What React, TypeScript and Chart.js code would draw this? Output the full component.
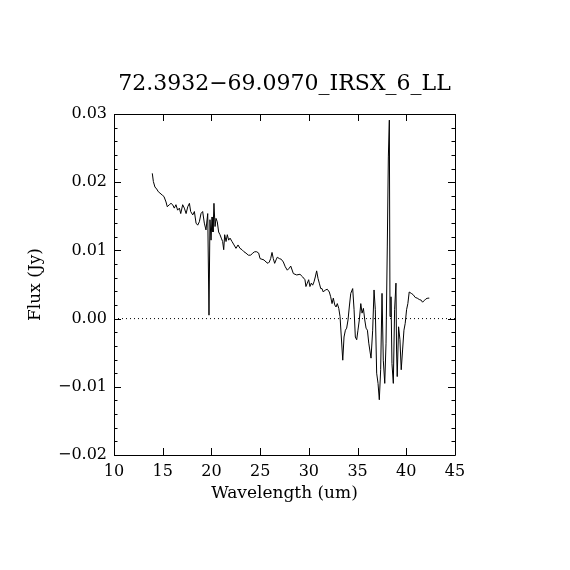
import React, { useEffect, useRef } from "react";
import { Chart, registerables } from "chart.js";

Chart.register(...registerables);

const chartTitle = "72.3932\u221269.0970_IRSX_6_LL";
const xLabel = "Wavelength (um)";
const yLabel = "Flux (Jy)";

const wavelength = [
  13.93, 14.04, 14.2, 14.38, 14.55, 14.72, 14.96, 15.13, 15.34, 15.47, 15.68, 15.85, 16.02, 16.19, 16.36, 16.53,
  16.71, 16.85, 17.05, 17.22, 17.4, 17.57, 17.74, 17.87, 18.08, 18.25, 18.42, 18.59, 18.76, 18.93, 19.1, 19.27,
  19.44, 19.62, 19.75, 19.85, 19.96, 20.06, 20.16, 20.26, 20.37, 20.47, 20.6, 20.74, 20.88, 21.01, 21.15, 21.26,
  21.36, 21.5, 21.63, 21.77, 21.91, 22.11, 22.32, 22.52, 22.73, 22.93, 23.14, 23.34, 23.55, 23.79, 24.03, 24.23,
  24.44, 24.65, 24.85, 24.99, 25.19, 25.4, 25.6, 25.81, 25.94, 26.08, 26.22, 26.35, 26.49, 26.63, 26.76, 26.97,
  27.17, 27.38, 27.58, 27.79, 27.99, 28.14, 28.41, 28.75, 29.09, 29.37, 29.6, 29.7, 29.84, 29.98, 30.11, 30.25,
  30.39, 30.53, 30.66, 30.8, 30.94, 31.07, 31.22, 31.35, 31.48, 31.69, 31.9, 32.1, 32.24, 32.38, 32.51, 32.66,
  32.79, 32.92, 33.07, 33.2, 33.33, 33.48, 33.61, 33.75, 33.88, 34.02, 34.15, 34.3, 34.5, 34.64, 34.77, 34.91,
  35.04, 35.18, 35.33, 35.46, 35.6, 35.74, 35.87, 36.01, 36.15, 36.38, 36.55, 36.69, 36.82, 36.96, 37.1, 37.23,
  37.37, 37.51, 37.64, 37.79, 37.92, 38.05, 38.16, 38.26, 38.33, 38.43, 38.53, 38.67, 38.8, 38.94, 39.0, 39.07,
  39.21, 39.35, 39.48, 39.62, 39.76, 39.89, 40.03, 40.16, 40.3, 40.51, 40.71, 40.92, 41.12, 41.33, 41.53, 41.67,
  41.81, 42.02, 42.22, 42.36,
];

const flux = [
  0.0213, 0.0201, 0.0193, 0.019, 0.0186, 0.0184, 0.0181, 0.0179, 0.0171, 0.0164, 0.0167, 0.0169, 0.0167, 0.0162, 0.0167, 0.0159,
  0.0162, 0.0154, 0.0167, 0.0162, 0.0154, 0.0164, 0.0169, 0.0157, 0.0152, 0.0157, 0.014, 0.0137, 0.0142, 0.0154, 0.0157, 0.014,
  0.013, 0.0154, 0.0005, 0.0145, 0.0115, 0.0149, 0.0127, 0.0169, 0.0135, 0.0147, 0.0142, 0.0127, 0.0123, 0.0118, 0.0113, 0.0101,
  0.0123, 0.0113, 0.0123, 0.0115, 0.0118, 0.0113, 0.0108, 0.0103, 0.0108, 0.0103, 0.0101, 0.0098, 0.0096, 0.0093, 0.0093, 0.0096,
  0.0098, 0.0098, 0.0096, 0.0088, 0.0087, 0.0086, 0.0083, 0.0081, 0.0083, 0.0088, 0.0097, 0.0088, 0.0081, 0.0086, 0.009, 0.0088,
  0.0087, 0.0083, 0.0076, 0.0071, 0.0074, 0.0077, 0.0066, 0.0064, 0.0065, 0.0061, 0.0057, 0.0047, 0.0052, 0.0057, 0.0047, 0.0052,
  0.0049, 0.0054, 0.0061, 0.007, 0.0059, 0.0052, 0.0044, 0.0044, 0.0039, 0.0042, 0.0043, 0.0039, 0.0032, 0.0022, 0.003, 0.002,
  0.0017, 0.0022, 0.0015, 0.0003, -0.0027, -0.0061, -0.0027, -0.0017, -0.0014, -0.0002, 0.0017, 0.0037, 0.0044, 0.0013, -0.0027, -0.0031,
  -0.0017, -0.0002, 0.0022, 0.0008, 0.0015, -0.0002, -0.0014, -0.0017, -0.0036, -0.0058, -0.0017, 0.0042, 0.0013, -0.008, -0.0095, -0.0119,
  -0.0075, 0.0037, -0.0061, -0.0095, -0.0036, 0.0105, 0.0237, 0.0291, 0.0003, 0.0032, -0.0066, -0.0095, 0.0013, 0.0052, -0.0046, -0.0085,
  -0.0012, -0.0031, -0.0075, -0.0046, -0.0017, -0.0007, 0.0013, 0.0022, 0.0039, 0.0037, 0.0035, 0.0031, 0.003, 0.0028, 0.0027, 0.0024,
  0.0026, 0.0029, 0.003, 0.003,
];

const xRange = [10, 45];
const yRange = [-0.02, 0.03];
const xMajorStep = 5;
const yMajorStep = 0.01;
const yMinorStep = 0.002;

const FONT = "'DejaVu Serif', serif";

const framePlugin = {
  id: "idlFrame",
  afterDraw(chart: any) {
    const { ctx, chartArea } = chart;
    const { left, right, top, bottom } = chartArea;
    const xs = chart.scales.x;
    const ys = chart.scales.y;
    ctx.save();
    ctx.strokeStyle = "#000";
    ctx.lineWidth = 1;
    ctx.beginPath();
    ctx.rect(Math.round(left) + 0.5, Math.round(top) + 0.5, Math.round(right - left), Math.round(bottom - top));
    ctx.stroke();
    ctx.beginPath();
    const major = 7;
    const minor = 3.5;
    for (let v = xRange[0]; v <= xRange[1] + 1e-9; v += xMajorStep) {
      const px = Math.round(xs.getPixelForValue(v)) + 0.5;
      ctx.moveTo(px, bottom);
      ctx.lineTo(px, bottom - major);
      ctx.moveTo(px, top);
      ctx.lineTo(px, top + major);
    }
    const n = Math.round((yRange[1] - yRange[0]) / yMinorStep);
    for (let i = 0; i <= n; i++) {
      const v = yRange[0] + i * yMinorStep;
      const isMajor = i % Math.round(yMajorStep / yMinorStep) === 0;
      const len = isMajor ? major : minor;
      const py = Math.round(ys.getPixelForValue(v)) + 0.5;
      ctx.moveTo(left, py);
      ctx.lineTo(left + len, py);
      ctx.moveTo(right, py);
      ctx.lineTo(right - len, py);
    }
    ctx.stroke();
    ctx.fillStyle = "#000";
    ctx.font = `22px ${FONT}`;
    ctx.textAlign = "center";
    ctx.textBaseline = "middle";
    ctx.fillText(chartTitle, (left + right) / 2, 84);
    ctx.restore();
  },
};

export default function App() {
  const canvasRef = useRef<HTMLCanvasElement | null>(null);

  useEffect(() => {
    if (!canvasRef.current) return;
    const points = wavelength.map((w, i) => ({ x: w, y: flux[i] }));
    const chart = new Chart(canvasRef.current, {
      type: "line",
      data: {
        datasets: [
          {
            data: [
              { x: xRange[0], y: 0 },
              { x: xRange[1], y: 0 },
            ],
            borderColor: "#000",
            borderWidth: 1,
            borderDash: [1, 3],
            pointRadius: 0,
            tension: 0,
          },
          {
            data: points,
            borderColor: "#000",
            borderWidth: 1,
            pointRadius: 0,
            tension: 0,
          },
        ],
      },
      options: {
        responsive: false,
        animation: false,
        devicePixelRatio: 1,
        layout: { padding: { top: 114, right: 115, left: 0, bottom: 0 } },
        plugins: {
          legend: { display: false },
          tooltip: { enabled: false },
          title: { display: false },
        },
        scales: {
          x: {
            type: "linear",
            min: xRange[0],
            max: xRange[1],
            grid: { display: false, drawTicks: false },
            border: { display: false },
            ticks: {
              stepSize: xMajorStep,
              color: "#000",
              font: { family: FONT, size: 16 },
              padding: 7,
              maxRotation: 0,
              callback: (v: any) => String(Math.round(Number(v))),
            },
            title: {
              display: true,
              text: xLabel,
              color: "#000",
              font: { family: FONT, size: 17 },
              padding: { top: 0, bottom: 66 },
            },
            afterFit: (s: any) => {
              s.height = 115;
            },
          },
          y: {
            type: "linear",
            min: yRange[0],
            max: yRange[1],
            grid: { display: false, drawTicks: false },
            border: { display: false },
            ticks: {
              stepSize: yMajorStep,
              color: "#000",
              font: { family: FONT, size: 16 },
              padding: 7,
              callback: (v: any) => {
                const s = Number(v).toFixed(2);
                return s === "-0.00" ? "0.00" : s.replace("-", "\u2212");
              },
            },
            title: {
              display: true,
              text: yLabel,
              color: "#000",
              font: { family: FONT, size: 17 },
              padding: { top: 25, bottom: 0 },
            },
            afterFit: (s: any) => {
              s.width = 114;
            },
          },
        },
      },
      plugins: [framePlugin],
    });
    return () => chart.destroy();
  }, []);

  return (
    <div style={{ position: "absolute", left: 0, top: 0, width: 570, height: 570, background: "#fff" }}>
      <canvas ref={canvasRef} width={570} height={570} />
    </div>
  );
}
